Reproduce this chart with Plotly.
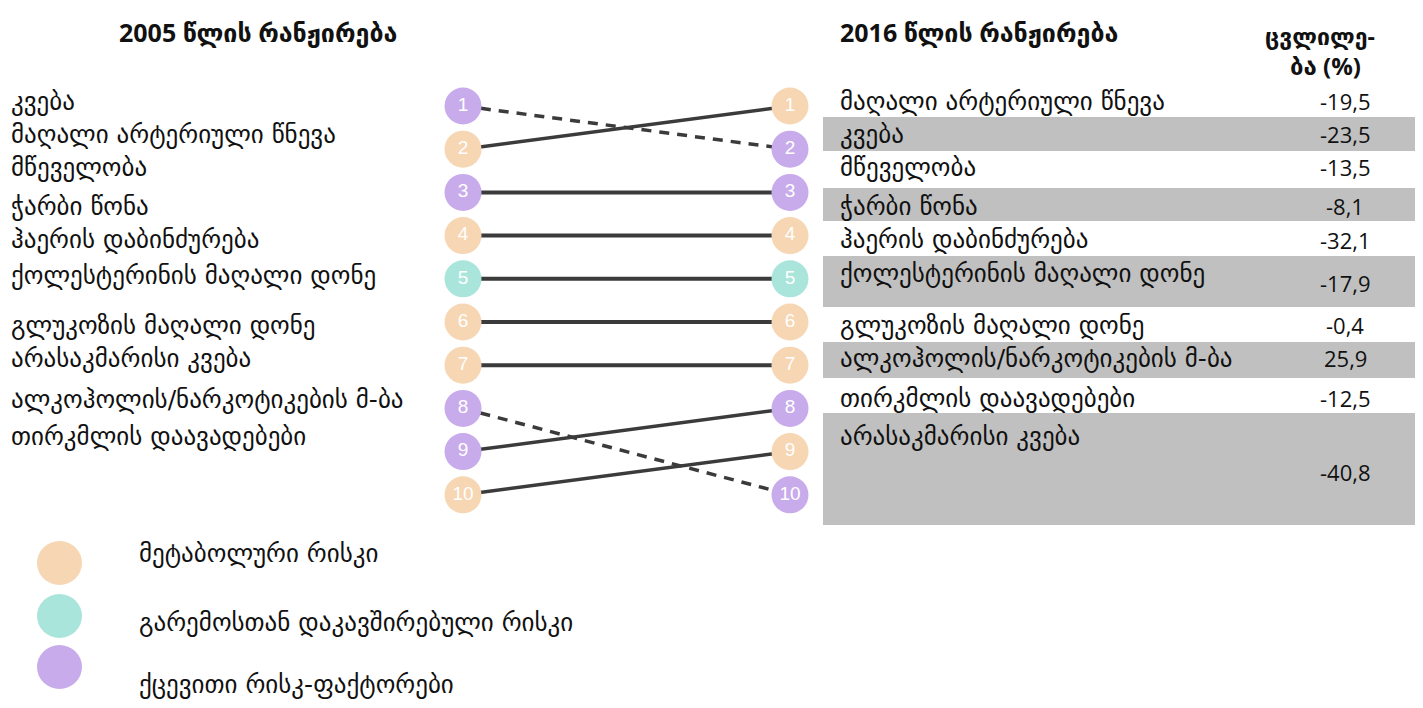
import plotly.graph_objects as go

# ---------------- data ----------------
items_2005 = ["კვება", "მაღალი არტერიული წნევა", "მწეველობა", "ჭარბი წონა",
              "ჰაერის დაბინძურება", "ქოლესტერინის მაღალი დონე", "გლუკოზის მაღალი დონე",
              "არასაკმარისი კვება", "ალკოჰოლის/ნარკოტიკების მ-ბა", "თირკმლის დაავადებები"]
items_2016 = ["მაღალი არტერიული წნევა", "კვება", "მწეველობა", "ჭარბი წონა",
              "ჰაერის დაბინძურება", "ქოლესტერინის მაღალი დონე", "გლუკოზის მაღალი დონე",
              "ალკოჰოლის/ნარკოტიკების მ-ბა", "თირკმლის დაავადებები", "არასაკმარისი კვება"]
change_2016 = [-19.5, -23.5, -13.5, -8.1, -32.1, -17.9, -0.4, 25.9, -12.5, -40.8]
risk_type = {
    "კვება": "beh", "მაღალი არტერიული წნევა": "met", "მწეველობა": "beh",
    "ჭარბი წონა": "met", "ჰაერის დაბინძურება": "env",
    "ქოლესტერინის მაღალი დონე": "met", "გლუკოზის მაღალი დონე": "met",
    "არასაკმარისი კვება": "beh", "ალკოჰოლის/ნარკოტიკების მ-ბა": "beh",
    "თირკმლის დაავადებები": "met",
}
legend_keys = ["met", "env", "beh"]
legend_labels = ["მეტაბოლური რისკი", "გარემოსთან დაკავშირებული რისკი", "ქცევითი რისკ-ფაქტორები"]
title_2005 = "2005 წლის რანჟირება"
title_2016 = "2016 წლის რანჟირება"
change_title = ["ცვლილე-", "ბა (%)"]

# ---------------- styles / layout ----------------
colors = {"met": "#F6D6B3", "env": "#A9E5DB", "beh": "#C8ABEB"}
W, H = 1423, 708
M = 8  # page body margin
FW, FH = W - 2 * M, H - 2 * M
GEO = "'DejaVu Sans', 'Noto Sans', sans-serif"
NUMF = "'Open Sans', 'DejaVu Sans', sans-serif"
LINE_C = "#3b3b3b"

# pixel geometry of the circle columns
X_LEFT, X_RIGHT = 463, 790
Y_FIRST, Y_STEP = 106, 43.2
ux = X_RIGHT - X_LEFT
xr = [(M - X_LEFT) / ux, (M + FW - X_LEFT) / ux]
yr = [1 + (M + FH - Y_FIRST) / Y_STEP, 1 + (M - Y_FIRST) / Y_STEP]


def px(X):
    return (X - M) / FW


def py(Y):
    return 1 - (Y - M) / FH


left_label_y = [101, 134, 167, 206, 240, 275, 325, 358, 399, 436]
right_label_y = [101, 134, 167, 206, 240, 273, 325, 358, 398, 436]
right_value_y = [101, 134, 167, 206, 240, 283, 325, 358, 398, 472]
gray_rows = [(117, 151), (188, 221), (256, 307), (342, 378), (413, 525)]
legend_circle_y = [563, 616, 667]
legend_text_y = [553, 622, 684]

fig = go.Figure()

# connecting lines
for i, name in enumerate(items_2005):
    r0 = i + 1
    r1 = items_2016.index(name) + 1
    dash = "10px,8px" if r1 > r0 else "solid"
    fig.add_trace(go.Scatter(x=[0, 1], y=[r0, r1], mode="lines",
                             line=dict(color=LINE_C, width=4 if r1 == r0 else 3.5, dash=dash),
                             hoverinfo="skip", showlegend=False))

# circles
for side, items in ((0, items_2005), (1, items_2016)):
    ranks = list(range(1, len(items) + 1))
    fig.add_trace(go.Scatter(
        x=[side] * len(items), y=ranks, mode="markers+text",
        marker=dict(size=37, color=[colors[risk_type[n]] for n in items], line=dict(width=0)),
        text=[str(r) for r in ranks], textposition="middle center",
        textfont=dict(color="white", size=19, family="Arial, 'Liberation Sans', sans-serif"),
        hoverinfo="skip", showlegend=False))

shapes = []
for (y0, y1) in gray_rows:
    shapes.append(dict(type="rect", xref="paper", yref="paper", x0=px(823), x1=px(1421),
                       y0=py(y1), y1=py(y0), fillcolor="#C0C0C0", line=dict(width=0), layer="below"))
for k, cy in zip(legend_keys, legend_circle_y):
    shapes.append(dict(type="circle", xref="paper", yref="paper", x0=px(37), x1=px(82),
                       y0=py(cy + 22), y1=py(cy - 22), fillcolor=colors[k], line=dict(width=0)))

ann = []


def txt(s, X, Y, size=25, anchor="left", fam=GEO, color="#111"):
    ann.append(dict(text=s, x=px(X), y=py(Y), xref="paper", yref="paper", showarrow=False,
                    xanchor=anchor, yanchor="middle", font=dict(size=size, family=fam, color=color)))


txt("<b>" + title_2005 + "</b>", 258, 32, size=25, anchor="center", fam=NUMF)
txt("<b>" + title_2016 + "</b>", 838, 32, size=25, anchor="left", fam=NUMF)
txt("<b>" + change_title[0] + "</b>", 1320, 36, size=23, anchor="center", fam=NUMF)
txt("<b>" + change_title[1] + "</b>", 1325, 65, size=24, anchor="center", fam=NUMF)

for name, Y in zip(items_2005, left_label_y):
    txt(name, 9, Y)
for name, Y in zip(items_2016, right_label_y):
    txt(name, 838, Y)
for v, Y in zip(change_2016, right_value_y):
    txt(f"{v:.1f}".replace(".", ","), 1345, Y, size=22, anchor="center", fam=NUMF)
for lab, Y in zip(legend_labels, legend_text_y):
    txt(lab, 137, Y)

fig.update_layout(
    width=FW, height=FH, autosize=False,
    margin=dict(l=0, r=0, t=0, b=0, pad=0),
    paper_bgcolor="white", plot_bgcolor="white",
    xaxis=dict(range=xr, visible=False, fixedrange=True),
    yaxis=dict(range=yr, visible=False, fixedrange=True),
    shapes=shapes, annotations=ann, showlegend=False,
)

fig.write_html("out.html")
